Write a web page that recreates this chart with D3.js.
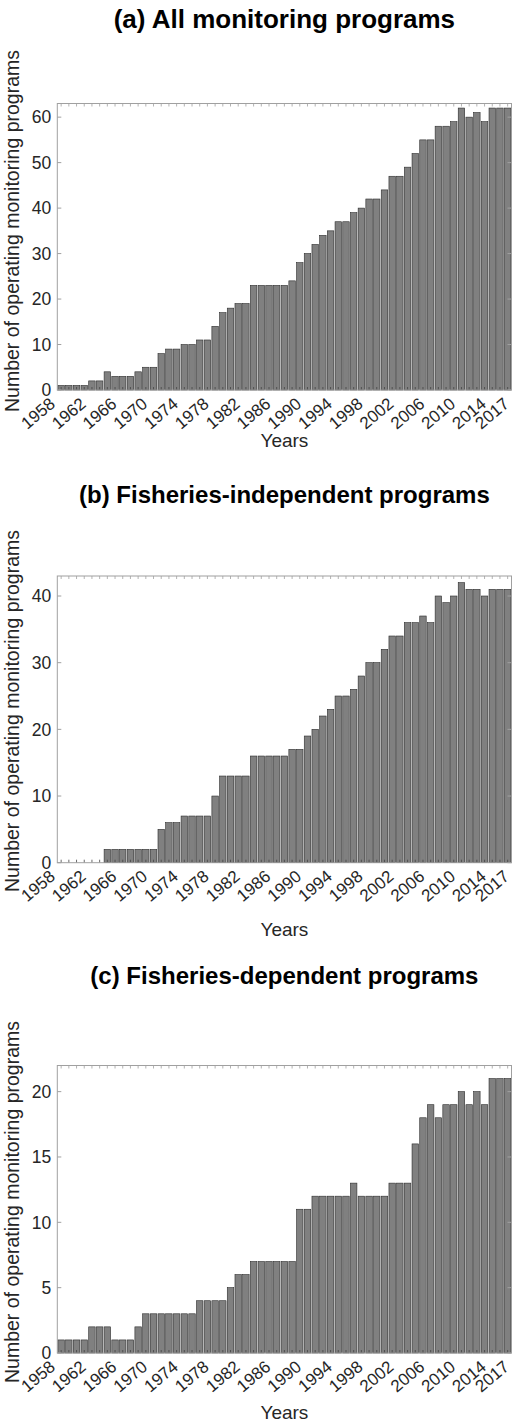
<!DOCTYPE html>
<html>
<head>
<meta charset="utf-8">
<script src="https://d3js.org/d3.v7.min.js"></script>
<style>
  body { margin: 0; background: #fff; }
  text { font-family: "Liberation Sans", Arial, sans-serif; }
</style>
</head>
<body>
<script>
// one bar per year, 1958 .. 2016 (drawn between year and year+1)
const years = d3.range(1958, 2017);

const allPrograms = [1,1,1,1, 2,2,4,3,3,3,4,5,5,8,9,9,10,10,11,11,14,17,18,19,19,
    23,23,23,23,23, 24,28,30,32,34,35,37,37,39,40, 42,42,44,47,47,49,52,55,55,58,
    58,59,62,60,61,59,62,62,62];

const independentPrograms = [0,0,0,0,0,0, 2,2,2,2,2,2,2, 5,6,6,7,7,7,7,10,13,13,13,13,
    16,16,16,16,16,17,17,19,20,22,23,
    25,25,26,28,30,30,32,34,34,36,36,37,36,40,39,40,42,41,41,40,41,41,41];

const dependentPrograms = [1,1,1,1, 2,2,2, 1,1,1, 2, 3,3,3,3,3,3,3, 4,4,4,4, 5,6,6,
    7,7,7,7,7,7, 11,11, 12,12,12,12,12, 13, 12,12,12,12, 13,13,13,
    16,18,19,18,19,19,20,19,20,19, 21,21,21];

const xTickLabels = [1958,1962,1966,1970,1974,1978,1982,1986,1990,1994,1998,2002,2006,2010,2014,2017];

const yTicksA = [0,10,20,30,40,50,60];
const yTicksB = [0,10,20,30,40];
const yTicksC = [0,5,10,15,20];

const titles = ["(a) All monitoring programs",
                "(b) Fisheries-independent programs",
                "(c) Fisheries-dependent programs"];

const width = 513, height = 1425;
const axLeft = 57.3, axRight = 511.5;

const panels = [
    {title: titles[0], titleSize: 26, values: allPrograms,         yMax: 63, ticks: yTicksA, top: 103.5, bottom: 390,   titleY: 28,  yearsY: 447,  ylabY: 231},
    {title: titles[1], titleSize: 24, values: independentPrograms, yMax: 43, ticks: yTicksB, top: 576,   bottom: 862.7, titleY: 503, yearsY: 936,  ylabY: 711},
    {title: titles[2], titleSize: 24, values: dependentPrograms,   yMax: 22, ticks: yTicksC, top: 1065.5, bottom: 1353, titleY: 984, yearsY: 1419, ylabY: 1202}
];

const axisGrey = "#a0a0a0",
      labelColor = "#262626";

const svg = d3.select("body").append("svg")
    .attr("width", width)
    .attr("height", height);

const x = d3.scaleLinear()
    .domain([1958, 2017])
    .range([axLeft, axRight]);

const barPad = 0.08;

panels.forEach(p => {
    const y = d3.scaleLinear()
        .domain([0, p.yMax])
        .range([p.bottom, p.top]);

    const g = svg.append("g");

    // bars
    g.selectAll(".bar")
        .data(years)
        .enter().append("rect")
        .attr("class", "bar")
        .attr("x", d => x(d + barPad))
        .attr("width", x(1958 + 1 - barPad) - x(1958 + barPad))
        .attr("y", (d, i) => y(p.values[i]))
        .attr("height", (d, i) => y(0) - y(p.values[i]))
        .style("fill", "#808080")
        .style("stroke", "#2b2b2b")
        .style("stroke-width", 0.6);

    // minor year ticks, top and bottom, pointing inward
    [p.top, p.bottom].forEach((yy, k) => {
        g.selectAll(".mt" + k)
            .data(years)
            .enter().append("line")
            .attr("x1", d => x(d + 0.5))
            .attr("x2", d => x(d + 0.5))
            .attr("y1", yy)
            .attr("y2", k === 0 ? yy + 3 : yy - 3)
            .style("stroke", k === 0 ? axisGrey : "#444")
            .style("stroke-width", 0.8);
    });

    // y ticks both sides
    g.selectAll(".yt")
        .data(p.ticks)
        .enter().append("path")
        .attr("d", d => "M" + axLeft + "," + y(d) + "h4M" + axRight + "," + y(d) + "h-4")
        .style("stroke", axisGrey)
        .style("stroke-width", 1);

    // box
    g.append("rect")
        .attr("x", axLeft)
        .attr("y", p.top)
        .attr("width", axRight - axLeft)
        .attr("height", p.bottom - p.top)
        .style("fill", "none")
        .style("stroke", axisGrey)
        .style("stroke-width", 1);

    // y tick labels
    g.selectAll(".ylab")
        .data(p.ticks)
        .enter().append("text")
        .attr("x", axLeft - 6)
        .attr("y", d => y(d))
        .attr("dy", "0.36em")
        .attr("text-anchor", "end")
        .style("font-size", "17.5px")
        .style("fill", labelColor)
        .text(d => d);

    // x tick labels, rotated
    g.selectAll(".xlab")
        .data(xTickLabels)
        .enter().append("text")
        .attr("text-anchor", "end")
        .attr("transform", d => "translate(" + (x(d) - 5) + "," + (p.bottom + 11) + ") rotate(-40)")
        .attr("dy", "0.35em")
        .style("font-size", "17px")
        .style("fill", labelColor)
        .text(d => d);

    // title
    svg.append("text")
        .attr("x", (axLeft + axRight) / 2)
        .attr("y", p.titleY)
        .attr("text-anchor", "middle")
        .style("font-size", p.titleSize + "px")
        .style("font-weight", "bold")
        .style("fill", "#000")
        .text(p.title);

    // axis titles
    svg.append("text")
        .attr("x", (axLeft + axRight) / 2)
        .attr("y", p.yearsY)
        .attr("text-anchor", "middle")
        .style("font-size", "19px")
        .style("fill", labelColor)
        .text("Years");

    svg.append("text")
        .attr("transform", "translate(19," + p.ylabY + ") rotate(-90)")
        .attr("text-anchor", "middle")
        .style("font-size", "19.5px")
        .style("fill", labelColor)
        .text("Number of operating monitoring programs");
});
</script>
</body>
</html>
